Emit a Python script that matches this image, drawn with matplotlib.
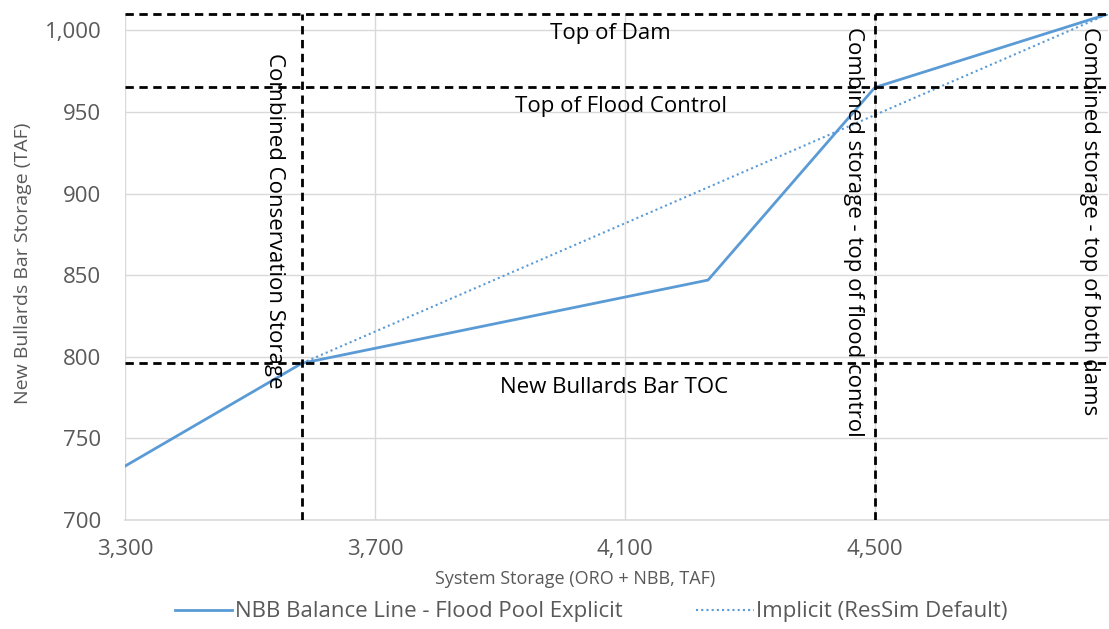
import matplotlib
matplotlib.use('Agg')
import matplotlib.pyplot as plt

plt.rcParams['font.family'] = ['Open Sans', 'DejaVu Sans']

# balance line, explicit flood pool
explicit_x = [3300, 3583, 4233, 4500, 4873]
explicit_y = [733, 796, 847, 965, 1010]
# implicit (ResSim default)
implicit_x = [3583, 4873]
implicit_y = [796, 1010]

# reference levels
top_of_dam = 1010
top_of_flood = 965
nbb_toc = 796
cons_storage = 3583
flood_storage = 4500
both_dams = 4873

xticks = [3300, 3700, 4100, 4500]
yticks = [700, 750, 800, 850, 900, 950, 1000]

blue = '#5B9BD5'
gray = '#595959'

fig = plt.figure(figsize=(11.09, 6.29), dpi=100)
ax = fig.add_axes([125/1109, 1 - 520/629, (1108 - 125)/1109, (520 - 14)/629])

ax.plot(explicit_x, explicit_y, color=blue, lw=2, label='NBB Balance Line - Flood Pool Explicit', zorder=3)
ax.plot(implicit_x, implicit_y, color=blue, lw=1.5, ls=(0, (1, 1.5)), label='Implicit (ResSim Default)', zorder=3)

for yv in [top_of_dam, top_of_flood, nbb_toc]:
    ax.axhline(yv, color='black', lw=2, ls=(0, (3, 2)), zorder=4, clip_on=False)
for xv in [cons_storage, flood_storage]:
    ax.axvline(xv, color='black', lw=2, ls=(0, (3, 2)), zorder=4)

ax.set_xlim(3300, both_dams)
ax.set_ylim(700, top_of_dam)
ax.set_xticks(xticks)
ax.set_yticks(yticks)
ax.set_xticklabels(['{:,}'.format(v) for v in xticks])
ax.set_yticklabels(['{:,}'.format(v) for v in yticks])
ax.tick_params(length=0, labelsize=16, colors=gray)
ax.tick_params(axis='y', pad=17)
ax.tick_params(axis='x', pad=14)
ax.grid(True, color='#d9d9d9', lw=1)
ax.set_axisbelow(True)
for s in ['top', 'right', 'left']:
    ax.spines[s].set_visible(False)
ax.spines['bottom'].set_color('#d9d9d9')
ax.spines['bottom'].set_linewidth(1.2)

ax.set_xlabel('System Storage (ORO + NBB, TAF)', fontsize=13, color=gray)
ax.xaxis.set_label_coords((575 - 125) / 983, -(570 - 520) / 506)
ax.set_ylabel('New Bullards Bar Storage (TAF)', fontsize=14, color=gray)
ax.yaxis.set_label_coords(-(125 - 32) / 983, (520 - 263) / 506)

# annotations
ax.text(4076, 998, 'Top of Dam', ha='center', va='center', fontsize=16)
ax.text(4093, 953.5, 'Top of Flood Control', ha='center', va='center', fontsize=16)
ax.text(4082, 781, 'New Bullards Bar TOC', ha='center', va='center', fontsize=16)
ax.text(3540, 986, 'Combined Conservation Storage', rotation=-90, ha='center', va='top', fontsize=16)
ax.text(4465, 1002, 'Combined storage - top of flood control', rotation=-90, ha='center', va='top', fontsize=16)
ax.text(4844, 1002, 'Combined storage - top of both dams', rotation=-90, ha='center', va='top', fontsize=16)

fig.legend(loc='center', bbox_to_anchor=(591 / 1109, 1 - 612 / 629), ncol=2, frameon=False,
           fontsize=16, handlelength=2.6, handletextpad=0.1, columnspacing=3.3, labelcolor=gray)

fig.savefig('out.png', dpi=100)
